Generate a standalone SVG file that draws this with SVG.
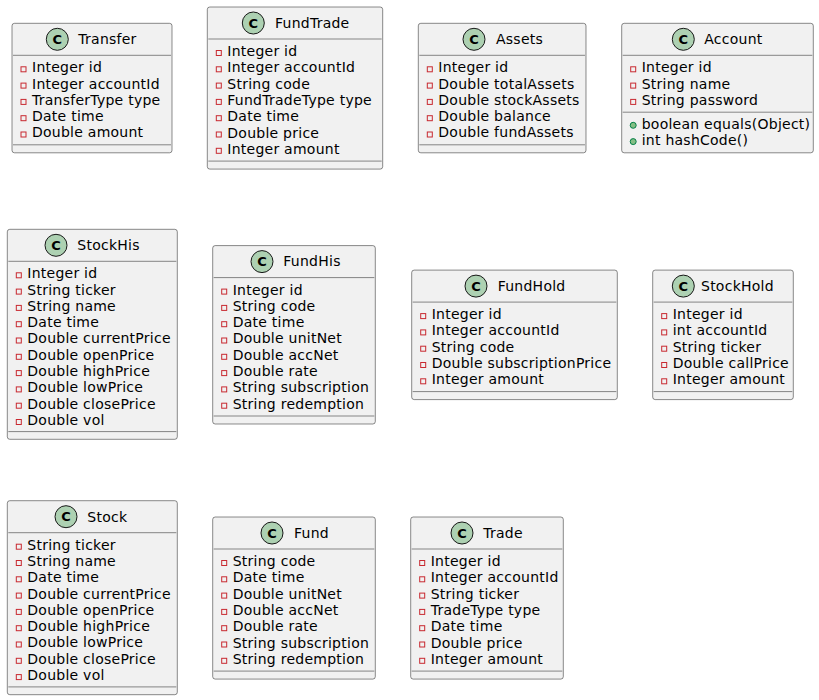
<svg xmlns="http://www.w3.org/2000/svg" width="819" height="700" viewBox="0 0 819 700">
<style>
.box{fill:#F1F1F1;stroke:#181818;stroke-width:0.5}
.sep{stroke:#181818;stroke-width:0.5}
.ic{fill:#ADD1B2;stroke:#181818;stroke-width:1}
.cl{font-family:'DejaVu Sans',sans-serif;font-weight:bold;font-size:13px;text-anchor:middle;fill:#000}
.nm{font-family:'DejaVu Sans',sans-serif;font-size:14px;letter-spacing:0.25px;fill:#000}
.at{font-family:'DejaVu Sans',sans-serif;font-size:14px;letter-spacing:0.25px;fill:#000}
.pr{fill:none;stroke:#C82930;stroke-width:1}
.pu{fill:#84BE84;stroke:#038048;stroke-width:1}
</style>
<rect width="819" height="700" fill="#FFFFFF"/>
<g id="connectors"></g>

<g id="Transfer" transform="translate(12,23.3)">
<rect class="box" x="0" y="0" width="160" height="129.5" rx="2.5" ry="2.5"/>
<circle class="ic" cx="45.3" cy="16" r="11"/><text class="cl" x="45.3" y="20.7">C</text>
<text class="nm" x="66.3" y="20.85">Transfer</text>
<line class="sep" x1="1" x2="159" y1="32" y2="32"/>
<rect class="pr" x="9" y="43.5" width="5" height="5"/><text class="at" x="20" y="49">Integer id</text>
<rect class="pr" x="9" y="59.8" width="5" height="5"/><text class="at" x="20" y="65.3">Integer accountId</text>
<rect class="pr" x="9" y="76.1" width="5" height="5"/><text class="at" x="20" y="81.6">TransferType type</text>
<rect class="pr" x="9" y="92.4" width="5" height="5"/><text class="at" x="20" y="97.9">Date time</text>
<rect class="pr" x="9" y="108.7" width="5" height="5"/><text class="at" x="20" y="114.2">Double amount</text>
<line class="sep" x1="1" x2="159" y1="121.5" y2="121.5"/>
</g>

<g id="FundTrade" transform="translate(207.3,7)">
<rect class="box" x="0" y="0" width="175.4" height="162.1" rx="2.5" ry="2.5"/>
<circle class="ic" cx="46" cy="16" r="11"/><text class="cl" x="46" y="20.7">C</text>
<text class="nm" x="67.7" y="20.85">FundTrade</text>
<line class="sep" x1="1" x2="174.4" y1="32" y2="32"/>
<rect class="pr" x="9" y="43.5" width="5" height="5"/><text class="at" x="20" y="49">Integer id</text>
<rect class="pr" x="9" y="59.8" width="5" height="5"/><text class="at" x="20" y="65.3">Integer accountId</text>
<rect class="pr" x="9" y="76.1" width="5" height="5"/><text class="at" x="20" y="81.6">String code</text>
<rect class="pr" x="9" y="92.4" width="5" height="5"/><text class="at" x="20" y="97.9">FundTradeType type</text>
<rect class="pr" x="9" y="108.7" width="5" height="5"/><text class="at" x="20" y="114.2">Date time</text>
<rect class="pr" x="9" y="125" width="5" height="5"/><text class="at" x="20" y="130.5">Double price</text>
<rect class="pr" x="9" y="141.3" width="5" height="5"/><text class="at" x="20" y="146.8">Integer amount</text>
<line class="sep" x1="1" x2="174.4" y1="154.1" y2="154.1"/>
</g>

<g id="Assets" transform="translate(418.3,23.3)">
<rect class="box" x="0" y="0" width="167.7" height="129.5" rx="2.5" ry="2.5"/>
<circle class="ic" cx="55.7" cy="16" r="11"/><text class="cl" x="55.7" y="20.7">C</text>
<text class="nm" x="77.7" y="20.85">Assets</text>
<line class="sep" x1="1" x2="166.7" y1="32" y2="32"/>
<rect class="pr" x="9" y="43.5" width="5" height="5"/><text class="at" x="20" y="49">Integer id</text>
<rect class="pr" x="9" y="59.8" width="5" height="5"/><text class="at" x="20" y="65.3">Double totalAssets</text>
<rect class="pr" x="9" y="76.1" width="5" height="5"/><text class="at" x="20" y="81.6">Double stockAssets</text>
<rect class="pr" x="9" y="92.4" width="5" height="5"/><text class="at" x="20" y="97.9">Double balance</text>
<rect class="pr" x="9" y="108.7" width="5" height="5"/><text class="at" x="20" y="114.2">Double fundAssets</text>
<line class="sep" x1="1" x2="166.7" y1="121.5" y2="121.5"/>
</g>

<g id="Account" transform="translate(621.7,23.3)">
<rect class="box" x="0" y="0" width="191.6" height="129.5" rx="2.5" ry="2.5"/>
<circle class="ic" cx="61.6" cy="16" r="11"/><text class="cl" x="61.6" y="20.7">C</text>
<text class="nm" x="82.6" y="20.85">Account</text>
<line class="sep" x1="1" x2="190.6" y1="32" y2="32"/>
<rect class="pr" x="9" y="43.5" width="5" height="5"/><text class="at" x="20" y="49">Integer id</text>
<rect class="pr" x="9" y="59.8" width="5" height="5"/><text class="at" x="20" y="65.3">String name</text>
<rect class="pr" x="9" y="76.1" width="5" height="5"/><text class="at" x="20" y="81.6">String password</text>
<line class="sep" x1="1" x2="190.6" y1="88.9" y2="88.9"/>
<circle class="pu" cx="11.5" cy="102" r="3"/><text class="at" x="20" y="105.9">boolean equals(Object)</text>
<circle class="pu" cx="11.5" cy="118.3" r="3"/><text class="at" x="20" y="122.2">int hashCode()</text>
</g>

<g id="StockHis" transform="translate(7.3,229.3)">
<rect class="box" x="0" y="0" width="170" height="210" rx="2.5" ry="2.5"/>
<circle class="ic" cx="48.7" cy="16" r="11"/><text class="cl" x="48.7" y="20.7">C</text>
<text class="nm" x="70" y="20.85">StockHis</text>
<line class="sep" x1="1" x2="169" y1="32" y2="32"/>
<rect class="pr" x="9" y="43.5" width="5" height="5"/><text class="at" x="20" y="49">Integer id</text>
<rect class="pr" x="9" y="59.8" width="5" height="5"/><text class="at" x="20" y="65.3">String ticker</text>
<rect class="pr" x="9" y="76.1" width="5" height="5"/><text class="at" x="20" y="81.6">String name</text>
<rect class="pr" x="9" y="92.4" width="5" height="5"/><text class="at" x="20" y="97.9">Date time</text>
<rect class="pr" x="9" y="108.7" width="5" height="5"/><text class="at" x="20" y="114.2">Double currentPrice</text>
<rect class="pr" x="9" y="125" width="5" height="5"/><text class="at" x="20" y="130.5">Double openPrice</text>
<rect class="pr" x="9" y="141.3" width="5" height="5"/><text class="at" x="20" y="146.8">Double highPrice</text>
<rect class="pr" x="9" y="157.6" width="5" height="5"/><text class="at" x="20" y="163.1">Double lowPrice</text>
<rect class="pr" x="9" y="173.9" width="5" height="5"/><text class="at" x="20" y="179.4">Double closePrice</text>
<rect class="pr" x="9" y="190.2" width="5" height="5"/><text class="at" x="20" y="195.7">Double vol</text>
<line class="sep" x1="1" x2="169" y1="202.3" y2="202.3"/>
</g>

<g id="FundHis" transform="translate(212.7,245.6)">
<rect class="box" x="0" y="0" width="162.6" height="178.4" rx="2.5" ry="2.5"/>
<circle class="ic" cx="49.3" cy="16" r="11"/><text class="cl" x="49.3" y="20.7">C</text>
<text class="nm" x="70.6" y="20.85">FundHis</text>
<line class="sep" x1="1" x2="161.6" y1="32" y2="32"/>
<rect class="pr" x="9" y="43.5" width="5" height="5"/><text class="at" x="20" y="49">Integer id</text>
<rect class="pr" x="9" y="59.8" width="5" height="5"/><text class="at" x="20" y="65.3">String code</text>
<rect class="pr" x="9" y="76.1" width="5" height="5"/><text class="at" x="20" y="81.6">Date time</text>
<rect class="pr" x="9" y="92.4" width="5" height="5"/><text class="at" x="20" y="97.9">Double unitNet</text>
<rect class="pr" x="9" y="108.7" width="5" height="5"/><text class="at" x="20" y="114.2">Double accNet</text>
<rect class="pr" x="9" y="125" width="5" height="5"/><text class="at" x="20" y="130.5">Double rate</text>
<rect class="pr" x="9" y="141.3" width="5" height="5"/><text class="at" x="20" y="146.8">String subscription</text>
<rect class="pr" x="9" y="157.6" width="5" height="5"/><text class="at" x="20" y="163.1">String redemption</text>
<line class="sep" x1="1" x2="161.6" y1="170.4" y2="170.4"/>
</g>

<g id="FundHold" transform="translate(411.7,270.1)">
<rect class="box" x="0" y="0" width="205.6" height="129.5" rx="2.5" ry="2.5"/>
<circle class="ic" cx="64.3" cy="16" r="11"/><text class="cl" x="64.3" y="20.7">C</text>
<text class="nm" x="86" y="20.85">FundHold</text>
<line class="sep" x1="1" x2="204.6" y1="32" y2="32"/>
<rect class="pr" x="9" y="43.5" width="5" height="5"/><text class="at" x="20" y="49">Integer id</text>
<rect class="pr" x="9" y="59.8" width="5" height="5"/><text class="at" x="20" y="65.3">Integer accountId</text>
<rect class="pr" x="9" y="76.1" width="5" height="5"/><text class="at" x="20" y="81.6">String code</text>
<rect class="pr" x="9" y="92.4" width="5" height="5"/><text class="at" x="20" y="97.9">Double subscriptionPrice</text>
<rect class="pr" x="9" y="108.7" width="5" height="5"/><text class="at" x="20" y="114.2">Integer amount</text>
<line class="sep" x1="1" x2="204.6" y1="121.5" y2="121.5"/>
</g>

<g id="StockHold" transform="translate(652.7,270.1)">
<rect class="box" x="0" y="0" width="140.6" height="129.5" rx="2.5" ry="2.5"/>
<circle class="ic" cx="30.6" cy="16" r="11"/><text class="cl" x="30.6" y="20.7">C</text>
<text class="nm" x="48.3" y="20.85">StockHold</text>
<line class="sep" x1="1" x2="139.6" y1="32" y2="32"/>
<rect class="pr" x="9" y="43.5" width="5" height="5"/><text class="at" x="20" y="49">Integer id</text>
<rect class="pr" x="9" y="59.8" width="5" height="5"/><text class="at" x="20" y="65.3">int accountId</text>
<rect class="pr" x="9" y="76.1" width="5" height="5"/><text class="at" x="20" y="81.6">String ticker</text>
<rect class="pr" x="9" y="92.4" width="5" height="5"/><text class="at" x="20" y="97.9">Double callPrice</text>
<rect class="pr" x="9" y="108.7" width="5" height="5"/><text class="at" x="20" y="114.2">Integer amount</text>
<line class="sep" x1="1" x2="139.6" y1="121.5" y2="121.5"/>
</g>

<g id="Stock" transform="translate(7.3,500.7)">
<rect class="box" x="0" y="0" width="170" height="194" rx="2.5" ry="2.5"/>
<circle class="ic" cx="58.7" cy="16" r="11"/><text class="cl" x="58.7" y="20.7">C</text>
<text class="nm" x="80" y="20.85">Stock</text>
<line class="sep" x1="1" x2="169" y1="32" y2="32"/>
<rect class="pr" x="9" y="43.5" width="5" height="5"/><text class="at" x="20" y="49">String ticker</text>
<rect class="pr" x="9" y="59.8" width="5" height="5"/><text class="at" x="20" y="65.3">String name</text>
<rect class="pr" x="9" y="76.1" width="5" height="5"/><text class="at" x="20" y="81.6">Date time</text>
<rect class="pr" x="9" y="92.4" width="5" height="5"/><text class="at" x="20" y="97.9">Double currentPrice</text>
<rect class="pr" x="9" y="108.7" width="5" height="5"/><text class="at" x="20" y="114.2">Double openPrice</text>
<rect class="pr" x="9" y="125" width="5" height="5"/><text class="at" x="20" y="130.5">Double highPrice</text>
<rect class="pr" x="9" y="141.3" width="5" height="5"/><text class="at" x="20" y="146.8">Double lowPrice</text>
<rect class="pr" x="9" y="157.6" width="5" height="5"/><text class="at" x="20" y="163.1">Double closePrice</text>
<rect class="pr" x="9" y="173.9" width="5" height="5"/><text class="at" x="20" y="179.4">Double vol</text>
<line class="sep" x1="1" x2="169" y1="186.2" y2="186.2"/>
</g>

<g id="Fund" transform="translate(212.7,517)">
<rect class="box" x="0" y="0" width="162.6" height="162.1" rx="2.5" ry="2.5"/>
<circle class="ic" cx="59.3" cy="16" r="11"/><text class="cl" x="59.3" y="20.7">C</text>
<text class="nm" x="81.3" y="20.85">Fund</text>
<line class="sep" x1="1" x2="161.6" y1="32" y2="32"/>
<rect class="pr" x="9" y="43.5" width="5" height="5"/><text class="at" x="20" y="49">String code</text>
<rect class="pr" x="9" y="59.8" width="5" height="5"/><text class="at" x="20" y="65.3">Date time</text>
<rect class="pr" x="9" y="76.1" width="5" height="5"/><text class="at" x="20" y="81.6">Double unitNet</text>
<rect class="pr" x="9" y="92.4" width="5" height="5"/><text class="at" x="20" y="97.9">Double accNet</text>
<rect class="pr" x="9" y="108.7" width="5" height="5"/><text class="at" x="20" y="114.2">Double rate</text>
<rect class="pr" x="9" y="125" width="5" height="5"/><text class="at" x="20" y="130.5">String subscription</text>
<rect class="pr" x="9" y="141.3" width="5" height="5"/><text class="at" x="20" y="146.8">String redemption</text>
<line class="sep" x1="1" x2="161.6" y1="154.1" y2="154.1"/>
</g>

<g id="Trade" transform="translate(410.7,517)">
<rect class="box" x="0" y="0" width="152.6" height="162.1" rx="2.5" ry="2.5"/>
<circle class="ic" cx="51.3" cy="16" r="11"/><text class="cl" x="51.3" y="20.7">C</text>
<text class="nm" x="72.6" y="20.85">Trade</text>
<line class="sep" x1="1" x2="151.6" y1="32" y2="32"/>
<rect class="pr" x="9" y="43.5" width="5" height="5"/><text class="at" x="20" y="49">Integer id</text>
<rect class="pr" x="9" y="59.8" width="5" height="5"/><text class="at" x="20" y="65.3">Integer accountId</text>
<rect class="pr" x="9" y="76.1" width="5" height="5"/><text class="at" x="20" y="81.6">String ticker</text>
<rect class="pr" x="9" y="92.4" width="5" height="5"/><text class="at" x="20" y="97.9">TradeType type</text>
<rect class="pr" x="9" y="108.7" width="5" height="5"/><text class="at" x="20" y="114.2">Date time</text>
<rect class="pr" x="9" y="125" width="5" height="5"/><text class="at" x="20" y="130.5">Double price</text>
<rect class="pr" x="9" y="141.3" width="5" height="5"/><text class="at" x="20" y="146.8">Integer amount</text>
<line class="sep" x1="1" x2="151.6" y1="154.1" y2="154.1"/>
</g>
</svg>
